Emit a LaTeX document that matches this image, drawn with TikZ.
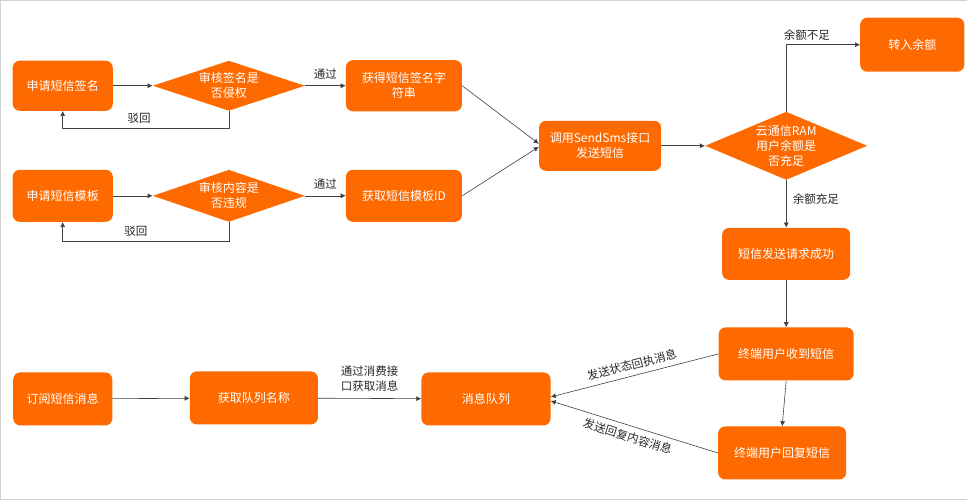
\documentclass[tikz,border=0pt]{standalone}
\usepackage{fontspec}
\setmainfont{Noto Sans CJK SC}
\usetikzlibrary{shapes.geometric,arrows.meta}
\definecolor{aliorange}{HTML}{FF6A00}
\definecolor{linegray}{HTML}{404040}

\begin{document}
\begin{tikzpicture}[x=1pt,y=-1pt,
    box/.style={fill=aliorange, rounded corners=7pt, text=white, align=center,
        font=\fontsize{12}{15}\selectfont, inner sep=1pt},
    dia/.style={diamond, fill=aliorange, inner sep=0pt},
    diatext/.style={text=white, align=center, font=\fontsize{12}{15}\selectfont},
    lbl/.style={text=black!85, font=\fontsize{11.5}{15}\selectfont, align=center},
    arr/.style={draw=linegray, line width=0.6pt, -{Latex[length=5pt,width=5pt]}}]

% frame
\draw[gray!35] (0.5,0.5) rectangle (966.5,499.5);

% Signature row
\node[box, minimum width=100pt, minimum height=50pt] (sig) at (63,86) {申请短信签名};
\node[dia, minimum width=152pt, minimum height=50pt,
    label={[diatext]center:审核签名是\\否侵权}] (chksig) at (229,86) {};
\node[box, minimum width=116pt, minimum height=51pt] (getsig) at (404,86) {获得短信签名字\\符串};

% Template row
\node[box, minimum width=100pt, minimum height=52pt] (tpl) at (63,196) {申请短信模板};
\node[dia, minimum width=152pt, minimum height=52pt,
    label={[diatext]center:审核内容是\\否违规}] (chktpl) at (229,196) {};
\node[box, minimum width=116pt, minimum height=52pt] (gettpl) at (404,196) {获取短信模板ID};

% Sending
\node[box, minimum width=122pt, minimum height=50pt] (send) at (600,146) {调用SendSms接口\\发送短信};
\node[dia, minimum width=162pt, minimum height=68pt,
    label={[diatext]center:云通信RAM\\用户余额是\\否充足}] (ram) at (786,146) {};
\node[box, minimum width=104pt, minimum height=54pt] (topup) at (912,45) {转入余额};
\node[box, minimum width=128pt, minimum height=52pt] (ok) at (786,254) {短信发送请求成功};
\node[box, minimum width=135pt, minimum height=53pt] (recv) at (786,354) {终端用户收到短信};
\node[box, minimum width=128pt, minimum height=53pt] (reply) at (782,453) {终端用户回复短信};

% Message queue row
\node[box, minimum width=99pt, minimum height=53pt] (sub) at (63,399) {订阅短信消息};
\node[box, minimum width=128pt, minimum height=53pt] (qname) at (254,398) {获取队列名称};
\node[box, minimum width=129pt, minimum height=53pt] (mq) at (486,399) {消息队列};

% Connectors
\draw[arr] (sig) -- (chksig);
\draw[arr] (chksig) -- node[lbl, above=3pt] {通过} (getsig);
\draw[arr] (chksig.south) -- ++(0,17) -| node[lbl, pos=0.27, above=1pt] {驳回} (sig.south);
\draw[arr] (tpl) -- (chktpl);
\draw[arr] (chktpl) -- node[lbl, above=3pt] {通过} (gettpl);
\draw[arr] (chktpl.south) -- ++(0,19) -| node[lbl, pos=0.28, above=1pt] {驳回} (tpl.south);

\draw[arr] (getsig.east) -- ([yshift=2pt]send.west);
\draw[arr] (gettpl.east) -- ([yshift=-1pt]send.west);
\draw[arr] (send) -- (ram);
\draw[arr] (ram.north) |- node[lbl, pos=0.64, above=1pt] {余额不足} (topup.west);
\draw[arr] (ram.south) -- node[lbl, right=3pt, pos=0.4] {余额充足} (ok.north);
\draw[arr] (ok) -- (recv);
\draw[arr] (recv.south) -- (reply.north);

\draw[arr] (sub) -- (qname);
\draw[arr] (qname) -- node[lbl, above=3pt] {通过消费接\\口获取消息} (mq);
\draw[arr] (recv.west) -- node[lbl, sloped, above=2pt, pos=0.5] {发送状态回执消息} ([yshift=2pt]mq.east);
\draw[arr] (reply.west) -- node[lbl, sloped, below=2pt, pos=0.52] {发送回复内容消息} ([yshift=-2pt]mq.east);

\end{tikzpicture}
\end{document}
